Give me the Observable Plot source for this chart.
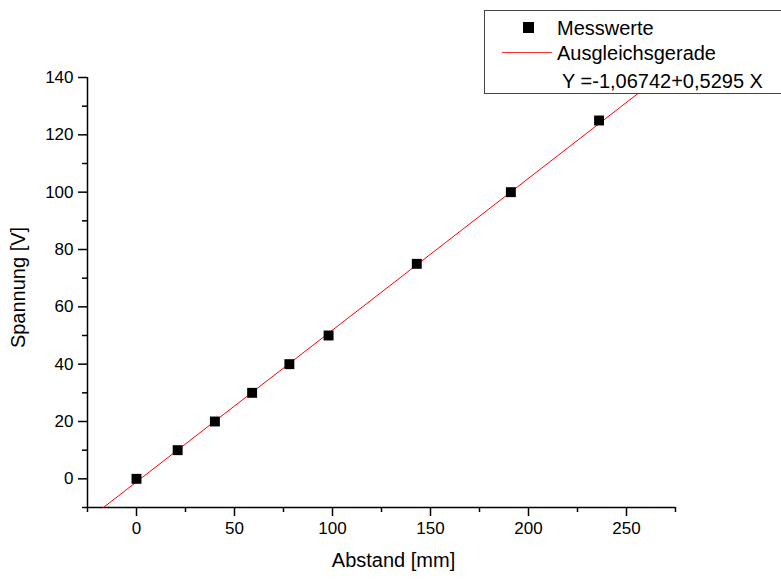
<!DOCTYPE html>
<html><head><meta charset="utf-8">
<script src="https://cdn.jsdelivr.net/npm/d3@7"></script>
<script src="https://cdn.jsdelivr.net/npm/@observablehq/plot@0.6"></script>
<style>
body{margin:0;background:#fff;font-family:"Liberation Sans",Arial,sans-serif;}
#wrap{position:relative;width:781px;height:580px;overflow:hidden;}
#legend{position:absolute;left:484px;top:10px;width:320px;height:82px;background:#fff;border:1px solid #444;font-size:20px;line-height:23px;color:#000;}
#legend .row{position:absolute;left:0;white-space:nowrap;}
#legend .swatch-line{position:absolute;left:17px;top:41px;width:50px;height:1px;background:#ff3030;}
#legend .swatch-sq{position:absolute;left:38px;top:11px;width:11px;height:11px;background:#000;}
</style></head>
<body><div id="wrap"><div id="chart"></div>
<div id="legend">
 <div class="swatch-sq"></div>
 <div class="swatch-line"></div>
 <div class="row" style="top:6px;left:72px;">Messwerte</div>
 <div class="row" style="top:31px;left:72px;">Ausgleichsgerade</div>
 <div class="row" style="top:59px;left:77px;">Y =-1,06742+0,5295 X</div>
</div></div>
<script>
const abstand = [0, 21, 40, 59, 78, 98, 143, 191, 236];
const spannung = [0, 10, 20, 30, 40, 50, 75, 100, 125];
const intercept = -1.06742;
const slope = 0.5295;
const xMajor = [0, 50, 100, 150, 200, 250];
const xMinor = [-25, 25, 75, 125, 175, 225, 275];
const yMajor = [0, 20, 40, 60, 80, 100, 120, 140];
const yMinor = [-10, 10, 30, 50, 70, 90, 110, 130];
const xTitle = "Abstand [mm]";
const yTitle = "Spannung [V]";

const points = abstand.map((x, i) => ({x, y: spannung[i]}));
const yLo = -10, yHi = 140;
const fit = [yLo, yHi].map(y => ({x: (y - intercept) / slope, y}));

const chart = Plot.plot({
  width: 781, height: 580,
  marginLeft: 87, marginRight: 106, marginTop: 77, marginBottom: 73,
  style: {fontFamily: "Liberation Sans, Arial, sans-serif", fontSize: "17px", color: "#000", background: "#fff"},
  x: {domain: [-25, 275]},
  y: {domain: [-10, 140]},
  marks: [
    Plot.axisX(xMajor, {tickSize: 9, tickPadding: 5, strokeWidth: 1.5, label: null, fontSize: 17}),
    Plot.axisX(xMinor, {tickSize: 5, strokeWidth: 1.5, tickFormat: () => "", label: null}),
    Plot.axisY(yMajor, {tickSize: 9, tickPadding: 5, strokeWidth: 1.5, label: null, fontSize: 17}),
    Plot.axisY(yMinor, {tickSize: 5, strokeWidth: 1.5, tickFormat: () => "", label: null}),
    Plot.ruleX([-25], {stroke: "#000", strokeWidth: 1.5}),
    Plot.ruleY([-10], {stroke: "#000", strokeWidth: 1.5}),
    Plot.text([xTitle], {text: d => d, frameAnchor: "bottom", dx: 12, dy: 59, fontSize: 20, fill: "#000"}),
    Plot.text([yTitle], {text: d => d, frameAnchor: "left", textAnchor: "middle", rotate: -90, dx: -69, dy: -5, fontSize: 20, fill: "#000"}),
    Plot.line(fit, {x: "x", y: "y", stroke: "#ff0000", strokeWidth: 1}),
    Plot.dot(points, {x: "x", y: "y", symbol: "square", fill: "#000", r: 5.6})
  ]
});
document.getElementById("chart").appendChild(chart);
</script></body></html>
